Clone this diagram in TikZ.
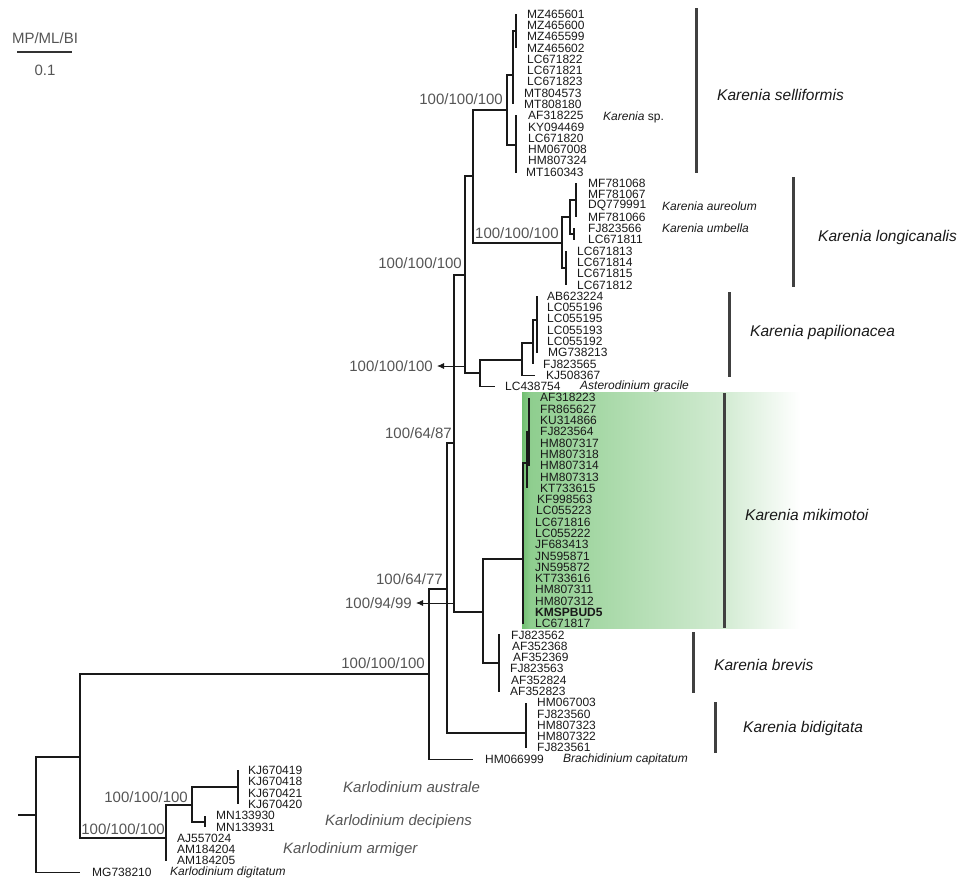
\documentclass[tikz,border=0pt]{standalone}
\usepackage{fontspec}
\setmainfont{Liberation Sans}
\usetikzlibrary{arrows.meta}
\definecolor{gboxa}{RGB}{112,190,112}
\definecolor{gboxb}{RGB}{140,205,140}
\definecolor{gboxc}{RGB}{208,234,208}
\definecolor{ink}{RGB}{25,25,25}
\definecolor{supgray}{RGB}{85,85,85}
\newcommand\lf[6]{%
  \coordinate (#2) at (#3,{14+11.29*#4});
  \node[leaf] (#2t) at (#5,{14+11.29*#4}) {#6};
  \draw[br] (#1) |- (#2);}
\begin{document}
\begin{tikzpicture}[x=1pt,y=-1pt,
  br/.style={draw=ink,line width=1.1pt},
  leaf/.style={font=\fontsize{12}{12}\selectfont,text=ink,inner sep=0pt,anchor=west},
  supp/.style={font=\fontsize{15}{15}\selectfont,text=supgray,inner sep=0pt},
  spname/.style={font=\fontsize{12}{12}\selectfont\itshape,text=ink,inner sep=0pt,anchor=west},
  cladelab/.style={font=\fontsize{15.5}{16}\selectfont\itshape,text=ink,inner sep=0pt,anchor=west},
  karlo/.style={font=\fontsize{15}{15}\selectfont\itshape,text=supgray,inner sep=0pt,anchor=west},
  cbar/.style={draw=black!75,line width=3pt},
  sarrow/.style={draw=ink,line width=0.8pt,-{Latex[length=7pt,width=6pt]}}]
\useasboundingbox (0,0) rectangle (960,881);
% green highlight
\shade[left color=gboxb,right color=gboxc] (522,392) rectangle (720,628);
\shade[left color=gboxc,right color=white] (720,392) rectangle (800,628);
\shade[left color=gboxa,right color=gboxb] (522,392) rectangle (530,628);
% scale bar
\node[supp] (mpml) at (45,38) {MP/ML/BI};
\coordinate (sba) at (17,52);
\coordinate (sbb) at (72,52);
\draw[draw=black!80,line width=2pt] (sba) -- (sbb);
\node[supp] (sbl) at (45,70) {0.1};
% internal nodes
\coordinate (rstub) at (18,815);
\coordinate (r) at (36,815);
\coordinate (K) at (80,757);
\coordinate (B) at (166,838);
\coordinate (C) at (192,805);
\coordinate (D) at (238,787);
\coordinate (E) at (205,822);
\coordinate (A) at (429,674);
\coordinate (F) at (447,589);
\coordinate (G) at (454,443);
\coordinate (H) at (465,275);
\coordinate (I) at (483,612);
\coordinate (J) at (473,176);
\coordinate (s1) at (507,110);
\coordinate (s2) at (513,75);
\coordinate (s3) at (516,31);
\coordinate (s4) at (516,145);
\coordinate (k1) at (562,243);
\coordinate (k2) at (570,217);
\coordinate (k3) at (566,268);
\coordinate (k4) at (576,200);
\coordinate (k5) at (574,234);
\coordinate (p0) at (480,373);
\coordinate (p1) at (522,360);
\coordinate (p2) at (533,343);
\coordinate (p3) at (537,320);
\coordinate (m0) at (523,559);
\coordinate (m1) at (527,463);
\coordinate (m2) at (529,432);
\coordinate (b0) at (499,663);
\coordinate (d0) at (526,733);
% internal branches
\draw[br] (rstub) -- (r);
\draw[br] (r) |- (K);
\draw[br] (K) |- (A);
\draw[br] (K) |- (B);
\draw[br] (B) |- (C);
\draw[br] (C) |- (D);
\draw[br] (C) |- (E);
\draw[br] (A) |- (F);
\draw[br] (F) |- (G);
\draw[br] (F) |- (d0);
\draw[br] (G) |- (H);
\draw[br] (G) |- (I);
\draw[br] (H) |- (J);
\draw[br] (H) |- (p0);
\draw[br] (J) |- (s1);
\draw[br] (J) |- (k1);
\draw[br] (s1) |- (s2);
\draw[br] (s1) |- (s4);
\draw[br] (s2) |- (s3);
\draw[br] (k1) |- (k2);
\draw[br] (k1) |- (k3);
\draw[br] (k2) |- (k4);
\draw[br] (k2) |- (k5);
\draw[br] (p0) |- (p1);
\draw[br] (p1) |- (p2);
\draw[br] (p2) |- (p3);
\draw[br] (I) |- (m0);
\draw[br] (I) |- (b0);
\draw[br] (m0) |- (m1);
\draw[br] (m1) |- (m2);
% leaves: selliformis
\lf{s3}{L0}{516}{0}{527}{MZ465601}
\lf{s3}{L1}{516}{1}{527}{MZ465600}
\lf{s3}{L2}{516}{2}{527}{MZ465599}
\lf{s3}{L3}{516}{3}{527}{MZ465602}
\lf{s2}{L4}{513}{4}{527}{LC671822}
\lf{s2}{L5}{513}{5}{527}{LC671821}
\lf{s2}{L6}{513}{6}{527}{LC671823}
\lf{s2}{L7}{513}{7}{524}{MT804573}
\lf{s2}{L8}{513}{8}{524}{MT808180}
\lf{s4}{L9}{517}{9}{528}{AF318225}
\lf{s4}{L10}{517}{10}{528}{KY094469}
\lf{s4}{L11}{517}{11}{528}{LC671820}
\lf{s4}{L12}{517}{12}{528}{HM067008}
\lf{s4}{L13}{517}{13}{528}{HM807324}
\lf{s4}{L14}{517}{14}{526}{MT160343}
\node[spname] (ksp) at (603,117) {Karenia \upshape sp.};
% longicanalis
\lf{k4}{L15}{576}{15}{588}{MF781068}
\lf{k4}{L16}{576}{16}{588}{MF781067}
\lf{k4}{L17}{576}{17}{588}{DQ779991}
\lf{k4}{L18}{576}{18}{588}{MF781066}
\lf{k5}{L19}{575}{19}{588}{FJ823566}
\lf{k5}{L20}{575}{20}{588}{LC671811}
\lf{k3}{L21}{566}{21}{577}{LC671813}
\lf{k3}{L22}{566}{22}{577}{LC671814}
\lf{k3}{L23}{566}{23}{577}{LC671815}
\lf{k3}{L24}{566}{24}{577}{LC671812}
\node[spname] (kaur) at (662,206) {Karenia aureolum};
\node[spname] (kumb) at (662,228.5) {Karenia umbella};
% papilionacea
\lf{p3}{L25}{537}{25}{547}{AB623224}
\lf{p3}{L26}{537}{26}{547}{LC055196}
\lf{p3}{L27}{537}{27}{547}{LC055195}
\lf{p3}{L28}{537}{28}{547}{LC055193}
\lf{p3}{L29}{537}{29}{547}{LC055192}
\lf{p3}{L30}{537}{30}{548}{MG738213}
\lf{p2}{L31}{533}{31}{543}{FJ823565}
\lf{p1}{L32}{535}{32}{546}{KJ508367}
\lf{p0}{L33}{495}{33}{505}{LC438754}
\node[spname] (agr) at (580,386.6) {Asterodinium gracile};
% mikimotoi
\lf{m2}{L34}{529}{34}{540}{AF318223}
\lf{m2}{L35}{529}{35}{540}{FR865627}
\lf{m2}{L36}{529}{36}{540}{KU314866}
\lf{m2}{L37}{529}{37}{540}{FJ823564}
\lf{m2}{L38}{529}{38}{540}{HM807317}
\lf{m2}{L39}{529}{39}{540}{HM807318}
\lf{m2}{L40}{529}{40}{540}{HM807314}
\lf{m1}{L41}{527}{41}{540}{HM807313}
\lf{m1}{L42}{527}{42}{540}{KT733615}
\lf{m0}{L43}{523}{43}{537}{KF998563}
\lf{m0}{L44}{523}{44}{536}{LC055223}
\lf{m0}{L45}{523}{45}{535}{LC671816}
\lf{m0}{L46}{523}{46}{535}{LC055222}
\lf{m0}{L47}{523}{47}{535}{JF683413}
\lf{m0}{L48}{523}{48}{535}{JN595871}
\lf{m0}{L49}{523}{49}{535}{JN595872}
\lf{m0}{L50}{523}{50}{535}{KT733616}
\lf{m0}{L51}{523}{51}{535}{HM807311}
\lf{m0}{L52}{523}{52}{535}{HM807312}
\lf{m0}{L53}{523}{53}{535}{\bfseries KMSPBUD5}
\lf{m0}{L54}{523}{54}{535}{LC671817}
% brevis
\lf{b0}{L55}{500}{55}{511}{FJ823562}
\lf{b0}{L56}{500}{56}{512}{AF352368}
\lf{b0}{L57}{500}{57}{513}{AF352369}
\lf{b0}{L58}{500}{58}{510}{FJ823563}
\lf{b0}{L59}{500}{59}{511}{AF352824}
\lf{b0}{L60}{500}{60}{510}{AF352823}
% bidigitata
\lf{d0}{L61}{526}{61}{537}{HM067003}
\lf{d0}{L62}{526}{62}{537}{FJ823560}
\lf{d0}{L63}{526}{63}{537}{HM807323}
\lf{d0}{L64}{526}{64}{537}{HM807322}
\lf{d0}{L65}{526}{65}{537}{FJ823561}
% Brachidinium
\lf{A}{L66}{473}{66}{485}{HM066999}
\node[spname] (bcap) at (563,759.3) {Brachidinium capitatum};
% Karlodinium
\lf{D}{L67}{238}{67}{248}{KJ670419}
\lf{D}{L68}{238}{68}{248}{KJ670418}
\lf{D}{L69}{238}{69}{248}{KJ670421}
\lf{D}{L70}{238}{70}{248}{KJ670420}
\lf{E}{L71}{205}{71}{216}{MN133930}
\lf{E}{L72}{205}{72}{216}{MN133931}
\lf{B}{L73}{166}{73}{177}{AJ557024}
\lf{B}{L74}{166}{74}{177}{AM184204}
\lf{B}{L75}{166}{75}{177}{AM184205}
\lf{r}{L76}{80}{76}{92}{MG738210}
\node[spname] (kdig) at (170,872.3) {Karlodinium digitatum};
\node[karlo] (kaus) at (343,787) {Karlodinium australe};
\node[karlo] (kdec) at (325,822) {Karlodinium decipiens};
\node[karlo] (karm) at (283,850) {Karlodinium armiger};
% support values
\node[supp,anchor=east] (sv1) at (503,99) {100/100/100};
\node[supp,anchor=west] (sv2) at (475,233) {100/100/100};
\node[supp,anchor=east] (sv3) at (462,263) {100/100/100};
\node[supp,anchor=east] (sv4) at (433,366) {100/100/100};
\node[supp,anchor=east] (sv5) at (452,433) {100/64/87};
\node[supp,anchor=east] (sv6) at (443,579) {100/64/77};
\node[supp,anchor=east] (sv7) at (412,603) {100/94/99};
\node[supp,anchor=east] (sv8) at (425,663) {100/100/100};
\node[supp,anchor=east] (sv9) at (188,797) {100/100/100};
\node[supp,anchor=east] (sv10) at (165,829) {100/100/100};
\coordinate (ar1) at (466,366);
\coordinate (ar2) at (454,603);
\draw[sarrow] (ar1) -- ([xshift=4pt]sv4.east);
\draw[sarrow] (ar2) -- ([xshift=4pt]sv7.east);
% clade bars and names
\draw[cbar] (696,8) -- (696,173);
\node[cladelab] (csel) at (717,95) {Karenia selliformis};
\draw[cbar] (793,177) -- (793,287);
\node[cladelab] (clon) at (818,237) {Karenia longicanalis};
\draw[cbar] (729,292) -- (729,377);
\node[cladelab] (cpap) at (750,332) {Karenia papilionacea};
\draw[cbar] (724,393) -- (724,628);
\node[cladelab] (cmik) at (745,515) {Karenia mikimotoi};
\draw[cbar] (693,632) -- (693,693);
\node[cladelab] (cbre) at (714,665) {Karenia brevis};
\draw[cbar] (715,702) -- (715,753);
\node[cladelab] (cbid) at (743,728) {Karenia bidigitata};
\end{tikzpicture}
\end{document}
